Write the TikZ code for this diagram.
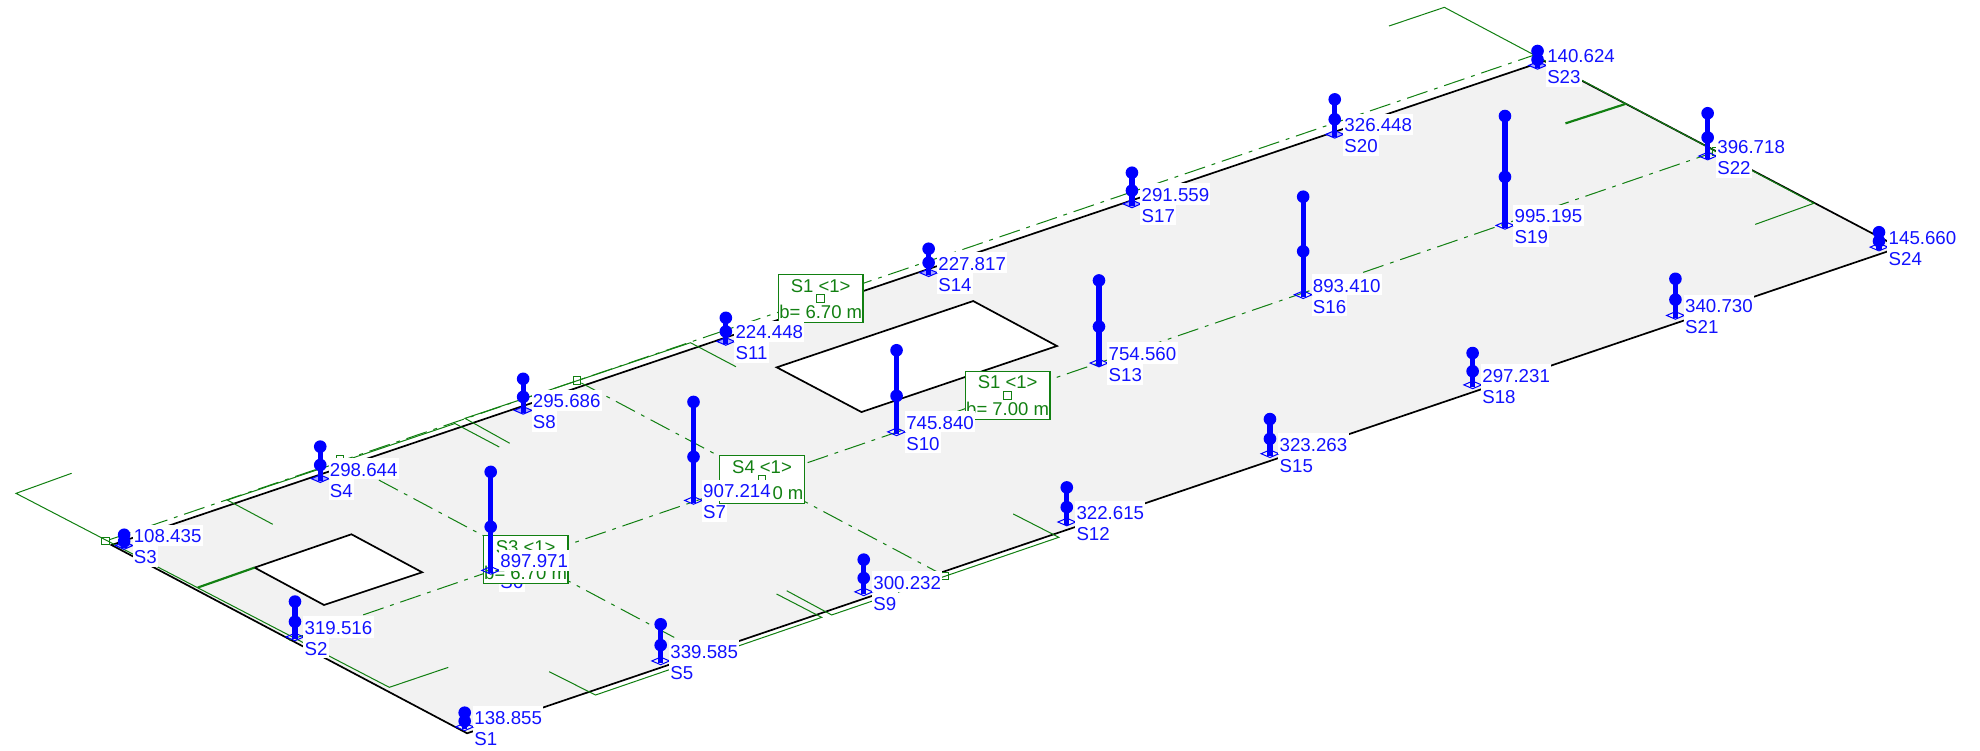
\documentclass[tikz,border=0pt]{standalone}
\usepackage{fontspec}
\setmainfont{Liberation Sans}
\definecolor{gline}{HTML}{128012}
\definecolor{bl}{HTML}{0000FF}
\definecolor{bltxt}{HTML}{1212FF}
\definecolor{slab}{HTML}{F2F2F2}
\tikzset{
  edge/.style={black,line width=1.35pt},
  sec/.style={gline,line width=0.8pt,line join=miter},
  secthick/.style={gline,line width=1.7pt},
  axisline/.style={gline,line width=0.8pt,dash pattern=on 17pt off 5.5pt on 3pt off 5.5pt},
  mark box/.style={draw=gline,line width=0.8pt,fill=none,minimum size=6pt,inner sep=0pt,rectangle},
  secbox/.style={draw=gline,line width=0.9pt,fill=white,minimum width=67pt,minimum height=38pt,inner sep=0pt,rectangle},
  sectxt/.style={text=gline,font=\fontsize{14.65}{16}\selectfont,inner sep=0pt},
  val/.style={text=bltxt,fill=white,font=\fontsize{14.8}{16}\selectfont,inner xsep=1pt,inner ysep=1pt,text height=13.5pt,text depth=1.5pt,anchor=west},
  col/.style={bl,line width=4.2pt},
  seat/.style={bl,line width=0.8pt,line join=miter}
}
\begin{document}
\begin{tikzpicture}[x=1pt,y=-1pt]
\useasboundingbox (0,0) rectangle (1568,594);
% slab corners and openings
\coordinate (C1) at (369.9,580.7);
\coordinate (C2) at (88.3,431.6);
\coordinate (C3) at (1223,48.3);
\coordinate (C4) at (1504,196);
\coordinate (Ha) at (201.6,449.5);
\coordinate (Hb) at (278.3,423.1);
\coordinate (Hc) at (334.3,453.2);
\coordinate (Hd) at (256.6,479.1);
\coordinate (Ja) at (615.1,290.9);
\coordinate (Jb) at (770.7,238.4);
\coordinate (Jc) at (837,274);
\coordinate (Jd) at (682.2,326.3);
\fill[slab,even odd rule] (C1)--(C2)--(C3)--(C4)--cycle (Ha)--(Hb)--(Hc)--(Hd)--cycle (Ja)--(Jb)--(Jc)--(Jd)--cycle;
\draw[edge] (C1)--(C2)--(C3)--(C4)--cycle;
\draw[edge] (Ha)--(Hb)--(Hc)--(Hd)--cycle;
\draw[edge] (Ja)--(Jb)--(Jc)--(Jd)--cycle;
% section brackets
\draw[sec] (56.7,374.8)--(12.7,390.7)--(308.3,544.3)--(355,528.5);
\draw[sec] (1100,20.6)--(1143.8,5.8)--(1436.4,161)--(1390,177.7);
\draw[sec] (216,415.2)--(180,396)--(360.3,335.4)--(395.4,354);
\draw[sec] (403.6,351)--(368.2,331.3)--(546.8,271.4)--(582.8,290.4);
\draw[sec] (434.9,531.9)--(471.6,550.4)--(650.7,488.9)--(615,470.4);
\draw[sec] (623,467.8)--(658.6,487)--(838.5,425.5)--(802.4,407);
\draw[secthick] (156.6,465.3)--(201.6,449.5);
\draw[secthick] (1287,82.4)--(1239.7,97.7);
% section axes with end markers
\node[mark box] (m1) at (83.7,428.4) {};
\node[mark box] (m2) at (269.3,363.8) {};
\node[mark box] (m3) at (457,301.5) {};
\node[mark box] (m4) at (748,456) {};
\node[mark box] (m5) at (1359,120) {};
\coordinate (e1) at (1215,43.6);
\coordinate (e2) at (555,516);
\coordinate (e3) at (229,507);
\draw[axisline] (m1)--(e1);
\draw[axisline] (m2)--(e2);
\draw[axisline] (m3)--(m4);
\draw[axisline] (e3)--(m5);
% support positions
\foreach \n/\x/\y in {1/368/576.6,2/233.6/505.4,3/98.3/433,4/253.6/380.1,5/523.2/524.4,6/388.6/452.7,7/549.2/397.3,8/414.3/326,9/684/469.7,10/710/343,11/574.8/271.4,12/844.8/414.4,13/870.3/288.5,14/735.4/217,15/1005.7/360.3,16/1032/234.4,17/896.4/162.5,18/1166.2/305.8,19/1191.8/179.5,20/1057/107.4,21/1326.8/250.8,22/1352.3/124.6,23/1217.6/52.8,24/1488/196.7}{
  \coordinate (P\n) at (\x,\y);
  \node[val] (L\n) at (\x+6.5,\y+7.5) {S\n};
}
% section boxes
\foreach \n/\x/\y/\a/\b in {b1/616/217.2/S1 <1>/b= 6.70 m,b2/764/294/S1 <1>/b= 7.00 m,b3/569.5/360.6/S4 <1>/b= 6.70 m,b4/382.3/423.9/S3 <1>/b= 6.70 m}{
  \node[secbox,anchor=north west] (\n) at (\x,\y) {};
  \node[sectxt] (\n t) at ([yshift=-9pt]\n.north) {\a};
  \node[mark box] (\n m) at ([yshift=-19pt]\n.north) {};
  \node[sectxt] (\n v) at ([yshift=-29.6pt]\n.north) {\b};
}
% supports
\foreach \n/\h/\t in {1/12.2/none,2/29/none,3/9.5/bl!35,4/26.4/bl!35,5/30/none,6/79/none,7/79/none,8/26/bl!35,9/26.5/none,10/65.6/none,11/19.7/bl!35,12/28.4/none,13/66.4/none,14/20/bl!35,15/28.4/none,16/78.6/none,17/25.7/bl!35,18/26.2/none,19/87.6/none,20/28.7/bl!35,21/30/none,22/34.9/none,23/12.4/bl!35,24/12.8/none}{
  \draw[seat,fill=\t] ([xshift=-7pt,yshift=1pt]P\n)--([yshift=4pt]P\n)--([xshift=7pt,yshift=1pt]P\n)--([yshift=-2pt]P\n)--cycle;
  \draw[col] ([yshift=-1pt]P\n)--([yshift=\h pt]P\n);
  \fill[bl] ([yshift=\h pt]P\n) circle (5pt);
  \fill[bl] ([yshift=0.45*\h pt]P\n) circle (5pt);
}
% values
\foreach \n/\v in {1/138.855,2/319.516,3/108.435,4/298.644,5/339.585,6/897.971,7/907.214,8/295.686,9/300.232,10/745.840,11/224.448,12/322.615,13/754.560,14/227.817,15/323.263,16/893.410,17/291.559,18/297.231,19/995.195,20/326.448,21/340.730,22/396.718,23/140.624,24/145.660}{
  \node[val] (N\n) at ([xshift=6.5pt,yshift=9pt]P\n) {\v};
}
\end{tikzpicture}
\end{document}
